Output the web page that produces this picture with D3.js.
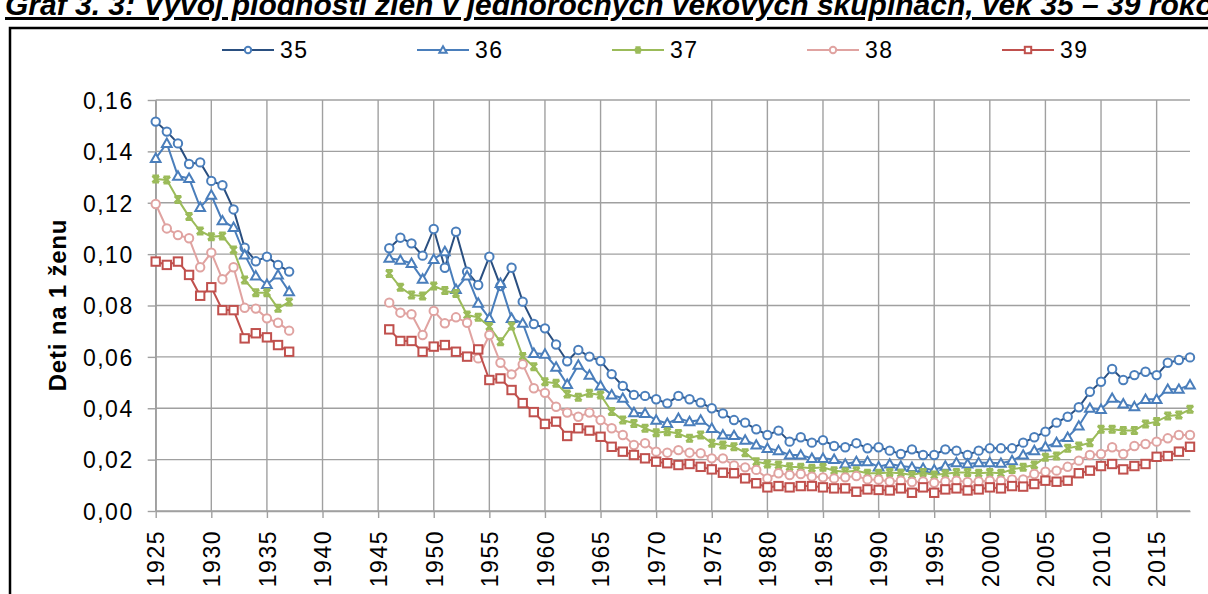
<!DOCTYPE html>
<html>
<head>
<meta charset="utf-8">
<script src="https://cdn.jsdelivr.net/npm/d3@7"></script>
<style>
  body { margin: 0; background: #fff; }
  svg { display: block; }
  .tick text { font-family: "Liberation Sans", Arial, sans-serif; font-size: 23px; letter-spacing: 1.5px; fill: #000; }
</style>
</head>
<body>
<div id="chart"></div>
<script>

// years on the category axis (no data 1938-1945)
const years = [1925, 1926, 1927, 1928, 1929, 1930, 1931, 1932, 1933, 1934, 1935, 1936, 1937,
  1938, 1939, 1940, 1941, 1942, 1943, 1944, 1945,
  1946, 1947, 1948, 1949, 1950, 1951, 1952, 1953, 1954, 1955, 1956, 1957, 1958, 1959, 1960,
  1961, 1962, 1963, 1964, 1965, 1966, 1967, 1968, 1969, 1970, 1971, 1972, 1973, 1974, 1975,
  1976, 1977, 1978, 1979, 1980, 1981, 1982, 1983, 1984, 1985, 1986, 1987, 1988, 1989, 1990,
  1991, 1992, 1993, 1994, 1995, 1996, 1997, 1998, 1999, 2000, 2001, 2002, 2003, 2004, 2005,
  2006, 2007, 2008, 2009, 2010, 2011, 2012, 2013, 2014, 2015, 2016, 2017, 2018];

const xTickYears = [1925, 1930, 1935, 1940, 1945, 1950, 1955, 1960, 1965, 1970, 1975,
  1980, 1985, 1990, 1995, 2000, 2005, 2010, 2015];
const yTicks = [0, 0.02, 0.04, 0.06, 0.08, 0.10, 0.12, 0.14, 0.16];

const seriesNames = ["35", "36", "37", "38", "39"];

const age35 = [0.1516, 0.1477, 0.1431, 0.1351, 0.1357, 0.1285, 0.1268, 0.1174, 0.1025, 0.0972, 0.0990, 0.0958, 0.0932,
  null, null, null, null, null, null, null, null,
  0.1023, 0.1064, 0.1042, 0.0994, 0.1098, 0.0947, 0.1087, 0.0932, 0.0880, 0.0990,
  0.0876, 0.0947, 0.0815, 0.0728, 0.0711, 0.0648, 0.0583, 0.0627, 0.0601, 0.0584,
  0.0533, 0.0487, 0.0452, 0.0448, 0.0435, 0.0419, 0.0448, 0.0435, 0.0422, 0.0400,
  0.0380, 0.0354, 0.0344, 0.0318, 0.0296, 0.0313, 0.0270, 0.0287, 0.0266, 0.0276,
  0.0253, 0.0248, 0.0264, 0.0244, 0.0248, 0.0235, 0.0222, 0.0240, 0.0218, 0.0218,
  0.0240, 0.0235, 0.0218, 0.0235, 0.0244, 0.0244, 0.0244, 0.0266, 0.0287, 0.0309,
  0.0344, 0.0367, 0.0404, 0.0464, 0.0503, 0.0553, 0.0510, 0.0529, 0.0542, 0.0529,
  0.0577, 0.0588, 0.0598];

const age36 = [0.1373, 0.1431, 0.1304, 0.1295, 0.1182, 0.1230, 0.1130, 0.1104, 0.0997, 0.0915, 0.0882, 0.0919, 0.0854,
  null, null, null, null, null, null, null, null,
  0.0984, 0.0977, 0.0964, 0.0903, 0.0980, 0.1010, 0.0863, 0.0915, 0.0809, 0.0750,
  0.0886, 0.0750, 0.0731, 0.0614, 0.0611, 0.0560, 0.0493, 0.0568, 0.0529, 0.0487,
  0.0452, 0.0439, 0.0383, 0.0380, 0.0354, 0.0341, 0.0361, 0.0348, 0.0354, 0.0322,
  0.0296, 0.0294, 0.0276, 0.0257, 0.0244, 0.0235, 0.0218, 0.0218, 0.0205, 0.0205,
  0.0201, 0.0183, 0.0192, 0.0192, 0.0172, 0.0183, 0.0175, 0.0170, 0.0166, 0.0160,
  0.0175, 0.0188, 0.0183, 0.0188, 0.0188, 0.0186, 0.0196, 0.0218, 0.0235, 0.0250,
  0.0266, 0.0287, 0.0331, 0.0400, 0.0396, 0.0439, 0.0417, 0.0406, 0.0435, 0.0435,
  0.0474, 0.0474, 0.0491];

const age37 = [0.1292, 0.1289, 0.1213, 0.1146, 0.1090, 0.1068, 0.1071, 0.1016, 0.0899, 0.0850, 0.0850, 0.0789, 0.0814,
  null, null, null, null, null, null, null, null,
  0.0925, 0.0871, 0.0841, 0.0837, 0.0876, 0.0858, 0.0847, 0.0763, 0.0754, 0.0718,
  0.0659, 0.0720, 0.0601, 0.0562, 0.0503, 0.0497, 0.0455, 0.0443, 0.0458, 0.0452,
  0.0387, 0.0354, 0.0341, 0.0322, 0.0305, 0.0309, 0.0302, 0.0283, 0.0296, 0.0264,
  0.0257, 0.0250, 0.0227, 0.0192, 0.0183, 0.0179, 0.0172, 0.0170, 0.0166, 0.0170,
  0.0157, 0.0153, 0.0157, 0.0147, 0.0147, 0.0150, 0.0147, 0.0140, 0.0150, 0.0140,
  0.0145, 0.0150, 0.0150, 0.0147, 0.0150, 0.0147, 0.0162, 0.0170, 0.0179, 0.0209,
  0.0214, 0.0244, 0.0253, 0.0266, 0.0318, 0.0318, 0.0313, 0.0313, 0.0339, 0.0348,
  0.0370, 0.0374, 0.0396];

const age38 = [0.1195, 0.1100, 0.1074, 0.1062, 0.0949, 0.1006, 0.0902, 0.0949, 0.0791, 0.0788, 0.0750, 0.0733, 0.0702,
  null, null, null, null, null, null, null, null,
  0.0811, 0.0772, 0.0766, 0.0685, 0.0779, 0.0731, 0.0754, 0.0733, 0.0594, 0.0685,
  0.0577, 0.0532, 0.0571, 0.0478, 0.0460, 0.0406, 0.0383, 0.0367, 0.0383, 0.0354,
  0.0322, 0.0296, 0.0257, 0.0264, 0.0231, 0.0227, 0.0237, 0.0227, 0.0225, 0.0205,
  0.0205, 0.0177, 0.0170, 0.0160, 0.0127, 0.0147, 0.0140, 0.0144, 0.0134, 0.0131,
  0.0127, 0.0131, 0.0136, 0.0123, 0.0122, 0.0115, 0.0118, 0.0113, 0.0115, 0.0110,
  0.0115, 0.0118, 0.0113, 0.0115, 0.0118, 0.0118, 0.0123, 0.0123, 0.0144, 0.0153,
  0.0157, 0.0172, 0.0196, 0.0218, 0.0222, 0.0248, 0.0222, 0.0253, 0.0261, 0.0270,
  0.0283, 0.0296, 0.0296];

const age39 = [0.0971, 0.0958, 0.0971, 0.0919, 0.0838, 0.0871, 0.0782, 0.0782, 0.0672, 0.0692, 0.0676, 0.0646, 0.0620,
  null, null, null, null, null, null, null, null,
  0.0707, 0.0662, 0.0662, 0.0620, 0.0640, 0.0646, 0.0620, 0.0601, 0.0629, 0.0510,
  0.0516, 0.0471, 0.0420, 0.0385, 0.0339, 0.0348, 0.0292, 0.0322, 0.0313, 0.0289,
  0.0250, 0.0231, 0.0218, 0.0205, 0.0192, 0.0186, 0.0179, 0.0183, 0.0172, 0.0162,
  0.0149, 0.0147, 0.0127, 0.0108, 0.0092, 0.0097, 0.0092, 0.0097, 0.0097, 0.0092,
  0.0088, 0.0088, 0.0075, 0.0084, 0.0082, 0.0080, 0.0088, 0.0071, 0.0092, 0.0071,
  0.0084, 0.0088, 0.0080, 0.0084, 0.0092, 0.0088, 0.0097, 0.0095, 0.0105, 0.0118,
  0.0114, 0.0118, 0.0147, 0.0157, 0.0175, 0.0183, 0.0162, 0.0175, 0.0183, 0.0211,
  0.0214, 0.0231, 0.0250];

const seriesValues = [age35, age36, age37, age38, age39];

const lineColors = ["#2a4f80", "#4a7ebb", "#9bbb59", "#e0a3a1", "#c0504d"];
const markerColors = ["#4a7ebb", "#4a7ebb", "#9bbb59", "#e0a3a1", "#c0504d"];
const markerTypes = ["circle", "triangle", "star", "circle", "square"];

const W = 1208, H = 594;
const margin = {top: 100, right: 18, bottom: 83, left: 155.7};
const width = W - margin.left - margin.right;
const height = H - margin.top - margin.bottom;

const svg = d3.select("#chart").append("svg")
    .attr("width", W)
    .attr("height", H);

// title, cut off at the top edge like in the source
svg.append("text")
    .attr("x", 5)
    .attr("y", 15)
    .style("font-family", "Liberation Sans, Arial, sans-serif")
    .style("font-size", "30px")
    .style("font-weight", "bold")
    .style("font-style", "italic")
    .style("text-decoration", "underline")
    .text("Graf 3. 3: Vývoj plodnosti žien v jednoročných vekových skupinách, vek 35 – 39 rokov");

// frame around the chart
svg.append("rect")
    .attr("x", 10).attr("y", 28)
    .attr("width", 1220).attr("height", 600)
    .attr("fill", "none")
    .attr("stroke", "#000")
    .attr("stroke-width", 2.5);

const g = svg.append("g")
    .attr("transform", `translate(${margin.left},${margin.top})`);

const x = d3.scaleLinear().domain([1925, 2018]).range([0, width]);
const y = d3.scaleLinear().domain([0, 0.16]).range([height, 0]);

const fmt = d => d3.format(".2f")(d).replace(".", ",");

// gridlines
g.append("g").attr("class", "grid")
    .selectAll("line.h").data(yTicks).join("line")
    .attr("x1", 0).attr("x2", width)
    .attr("y1", d => y(d)).attr("y2", d => y(d))
    .attr("stroke", "#a0a0a0").attr("stroke-width", 1.4);

g.append("g").attr("class", "grid")
    .selectAll("line.v").data(xTickYears).join("line")
    .attr("x1", d => x(d)).attr("x2", d => x(d))
    .attr("y1", 0).attr("y2", height)
    .attr("stroke", "#a0a0a0").attr("stroke-width", 1.4);

// axes
const yAxis = d3.axisLeft(y).tickValues(yTicks).tickFormat(fmt)
    .tickSize(8).tickSizeOuter(0).tickPadding(14);
const yG = g.append("g").call(yAxis);
yG.select(".domain").attr("stroke", "#a0a0a0").attr("stroke-width", 1.4);
yG.selectAll(".tick line").attr("stroke", "#a0a0a0").attr("stroke-width", 1.4);
yG.selectAll(".tick text").attr("dy", "0.36em");

const xAxis = d3.axisBottom(x).tickValues(xTickYears).tickFormat(d3.format("d"))
    .tickSize(7).tickSizeOuter(0);
const xG = g.append("g").attr("transform", `translate(0,${height})`).call(xAxis);
xG.select(".domain").attr("stroke", "#a0a0a0").attr("stroke-width", 1.4);
xG.selectAll(".tick line").attr("stroke", "#a0a0a0").attr("stroke-width", 1.4);
xG.selectAll(".tick text")
    .attr("transform", "rotate(-90)")
    .attr("x", -19)
    .attr("y", 0)
    .attr("dy", "0.36em")
    .style("text-anchor", "end");

// y axis title
svg.append("text")
    .attr("transform", "translate(66,305) rotate(-90)")
    .attr("text-anchor", "middle")
    .style("font-family", "Liberation Sans, Arial, sans-serif")
    .style("font-size", "24px")
    .style("font-weight", "bold")
    .style("letter-spacing", "0.8px")
    .text("Deti na 1 ženu");

// marker shapes
function drawMarker(sel, type, color, s) {
    if (type === "circle") {
        sel.append("circle").attr("r", s)
            .attr("fill", "#fff").attr("stroke", color).attr("stroke-width", 2);
    } else if (type === "square") {
        sel.append("rect").attr("x", -s).attr("y", -s)
            .attr("width", 2 * s).attr("height", 2 * s)
            .attr("fill", "#fff").attr("stroke", color).attr("stroke-width", 2);
    } else if (type === "triangle") {
        const h = s * 1.15;
        sel.append("path")
            .attr("d", `M0,${-h}L${h},${h * 0.75}L${-h},${h * 0.75}Z`)
            .attr("fill", "#fff").attr("stroke", color).attr("stroke-width", 2);
    } else {
        sel.append("path")
            .attr("d", `M${-s},${-s}L${s},${s}M${s},${-s}L${-s},${s}M${-s},${-s}L${s},${-s}M${-s},${s}L${s},${s}`)
            .attr("fill", "none").attr("stroke", color).attr("stroke-width", 2.4);
    }
}

const line = d3.line()
    .defined(d => d.v !== null)
    .x(d => x(d.year))
    .y(d => y(d.v));

seriesValues.forEach((vals, i) => {
    const pts = years.map((yr, k) => ({year: yr, v: vals[k]}));
    const sg = g.append("g").attr("class", "series s" + seriesNames[i]);
    sg.append("path")
        .datum(pts)
        .attr("d", line)
        .attr("fill", "none")
        .attr("stroke", lineColors[i])
        .attr("stroke-width", 2);
    sg.selectAll("g.m")
        .data(pts.filter(d => d.v !== null))
        .join("g")
        .attr("class", "m")
        .attr("transform", d => `translate(${x(d.year)},${y(d.v)})`)
        .each(function() { drawMarker(d3.select(this), markerTypes[i], markerColors[i], i === 2 ? 3.3 : 4.2); });
});

// legend
const legend = svg.append("g").attr("transform", "translate(222,50)");
seriesNames.forEach((name, i) => {
    const lg = legend.append("g").attr("transform", `translate(${i * 195},0)`);
    lg.append("line").attr("x1", 0).attr("x2", 52).attr("y1", 0).attr("y2", 0)
        .attr("stroke", lineColors[i]).attr("stroke-width", 2);
    const mg = lg.append("g").attr("transform", "translate(26,0)");
    drawMarker(mg, markerTypes[i], markerColors[i], i === 2 ? 2.6 : 3.2);
    lg.append("text").attr("x", 58).attr("y", 0).attr("dy", "0.36em")
        .style("font-family", "Liberation Sans, Arial, sans-serif")
        .style("font-size", "23px")
        .style("letter-spacing", "1.5px")
        .text(name);
});

</script>
</body>
</html>
